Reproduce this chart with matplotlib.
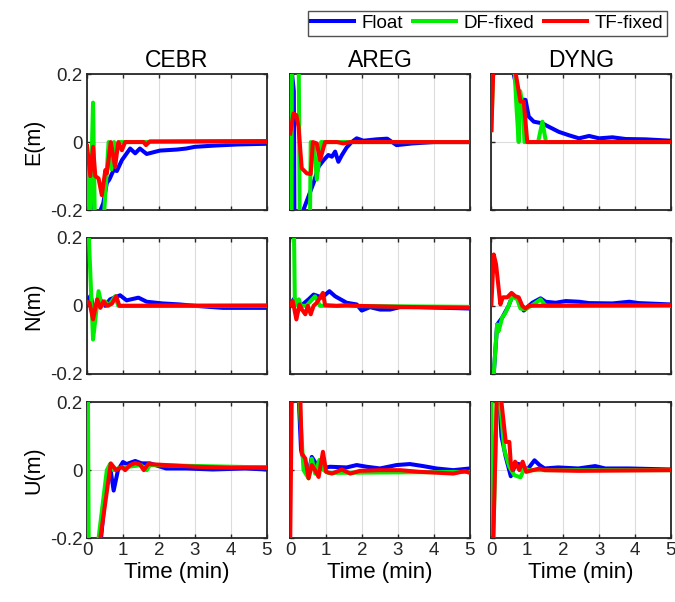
import numpy as np
import matplotlib
matplotlib.use("Agg")
import matplotlib.pyplot as plt

# --- data (time in min, error in m) ---
STATIONS = ["CEBR", "AREG", "DYNG"]
COMPONENTS = ["E", "N", "U"]
SERIES = ["Float", "DF-fixed", "TF-fixed"]
COLORS = ["#0000ff", "#00ee00", "#ff0000"]

# CEBR E
cebr_e_float_t = [0, 0.1, 0.2, 0.3, 0.45, 0.55, 0.62, 0.74, 0.83, 0.97, 1.2, 1.34, 1.47, 1.66, 2.03, 2.5, 2.76, 3.0, 3.6, 4.2, 5.0]
cebr_e_float_y = [-0.05, -0.15, -0.22, -0.22, -0.18, -0.12, -0.11, -0.082, -0.085, -0.053, -0.019, -0.033, -0.019, -0.035, -0.025, -0.022, -0.019, -0.014, -0.01, -0.007, -0.005]
cebr_e_df_t = [0, 0.08, 0.166, 0.22, 0.45, 0.6, 0.68, 0.75, 0.8, 0.9, 1.0, 5.0]
cebr_e_df_y = [-0.05, -0.25, 0.116, -0.25, -0.25, 0.0, -0.08, 0.0, -0.02, 0.0, 0.0, 0.002]
cebr_e_tf_t = [0, 0.09, 0.166, 0.23, 0.32, 0.41, 0.51, 0.55, 0.66, 0.78, 0.87, 0.97, 1.06, 1.57, 1.64, 1.75, 5.0]
cebr_e_tf_y = [-0.012, -0.10, -0.014, -0.10, -0.107, -0.156, -0.082, -0.092, 0.0, -0.073, 0.0, -0.024, 0.0, 0.0, -0.009, 0.002, 0.003]

# AREG E
areg_e_float_t = [0, 0.05, 0.1, 0.12, 0.3, 0.4, 0.65, 0.79, 0.93, 1.06, 1.16, 1.25, 1.34, 1.44, 1.57, 1.71, 1.85, 2.04, 2.4, 2.7, 2.96, 3.4, 4.0, 5.0]
areg_e_float_y = [0.4, 0.2, 0.15, -0.3, -0.22, -0.19, -0.12, -0.072, -0.053, -0.038, -0.043, -0.028, -0.058, -0.038, -0.016, 0.0, 0.011, 0.004, 0.008, 0.01, -0.009, -0.004, 0.0, 0.0]
areg_e_df_t = [0, 0.03, 0.05, 0.22, 0.28, 0.3, 0.55, 0.57, 0.66, 0.74, 0.86, 0.92, 5.0]
areg_e_df_y = [0.5, -0.5, 0.5, 0.5, -0.5, -0.22, -0.22, 0.0, -0.01, -0.11, 0.0, 0.0, 0.0]
areg_e_tf_t = [0, 0.09, 0.17, 0.23, 0.32, 0.46, 0.57, 0.63, 0.74, 0.83, 0.97, 1.3, 1.48, 1.67, 5.0]
areg_e_tf_y = [0.025, 0.084, 0.079, 0.045, -0.077, -0.092, -0.094, 0.0, -0.004, -0.053, 0.0, 0.0, -0.004, 0.0, 0.0]

# DYNG E
dyng_e_float_t = [0, 0.5, 0.62, 0.74, 0.85, 0.95, 1.04, 1.18, 1.42, 1.6, 1.88, 2.16, 2.44, 2.72, 3.0, 3.37, 3.74, 4.3, 5.0]
dyng_e_float_y = [0.3, 0.3, 0.2, 0.143, 0.125, 0.124, 0.075, 0.06, 0.055, 0.045, 0.03, 0.02, 0.011, 0.018, 0.011, 0.014, 0.009, 0.008, 0.004]
dyng_e_df_t = [0, 0.07, 0.6, 0.7, 0.76, 0.8, 0.88, 0.92, 1.0, 1.3, 1.42, 1.52, 5.0]
dyng_e_df_y = [0.035, 0.3, 0.3, 0.1, 0.0, 0.15, 0.1, 0.0, 0.0, 0.0, 0.06, 0.0, 0.0]
dyng_e_tf_t = [0, 0.065, 0.6, 0.81, 0.9, 1.0, 5.0]
dyng_e_tf_y = [0.035, 0.25, 0.25, 0.119, 0.119, 0.0, 0.0]

# CEBR N
cebr_n_float_t = [0, 0.1, 0.2, 0.35, 0.5, 0.64, 0.92, 1.1, 1.43, 1.66, 2.1, 2.58, 3.0, 3.78, 5.0]
cebr_n_float_y = [0.014, 0.03, -0.02, 0.02, 0.0, 0.019, 0.031, 0.016, 0.024, 0.012, 0.007, 0.004, 0.0, -0.006, -0.006]
cebr_n_df_t = [0, 0.05, 0.166, 0.32, 0.41, 0.5, 0.6, 0.78, 0.87, 5.0]
cebr_n_df_y = [0.2, 0.2, -0.099, 0.043, 0.0, 0.013, 0.0, 0.028, 0.0, 0.0]
cebr_n_tf_t = [0, 0.07, 0.166, 0.28, 0.37, 0.46, 0.55, 0.69, 0.81, 0.9, 1.1, 5.0]
cebr_n_tf_y = [0.012, 0.008, -0.04, 0.019, -0.006, 0.013, 0.0, 0.006, 0.028, 0.0, 0.0, 0.001]

# AREG N
areg_n_float_t = [0, 0.1, 0.3, 0.51, 0.65, 0.79, 0.88, 1.09, 1.25, 1.57, 1.85, 1.99, 2.22, 2.5, 2.78, 3.05, 3.6, 4.35, 5.0]
areg_n_float_y = [0.0, 0.02, 0.0, 0.019, 0.033, 0.028, 0.024, 0.043, 0.028, 0.009, 0.004, -0.014, -0.004, -0.011, -0.011, -0.004, -0.004, -0.006, -0.008]
areg_n_df_t = [0.1, 0.13, 0.18, 0.24, 0.3, 0.45, 0.69, 0.83, 5.0]
areg_n_df_y = [0.25, 0.0, 0.01, 0.019, 0.0, 0.0, 0.028, 0.0, -0.003]
areg_n_tf_t = [0, 0.07, 0.17, 0.26, 0.32, 0.42, 0.49, 0.57, 0.65, 0.74, 0.91, 0.97, 1.29, 1.57, 1.85, 3.0, 5.0]
areg_n_tf_y = [0.004, 0.014, -0.04, 0.004, -0.01, -0.025, 0.0, -0.025, 0.0, 0.009, 0.038, 0.002, 0.0, 0.002, 0.0, -0.003, -0.006]

# DYNG N
dyng_n_float_t = [0, 0.065, 0.16, 0.3, 0.48, 0.58, 0.76, 0.9, 1.14, 1.37, 1.51, 1.79, 2.07, 2.44, 2.72, 3.37, 3.84, 4.1, 5.0]
dyng_n_float_y = [-0.3, -0.2, -0.055, -0.035, 0.0, 0.028, 0.02, -0.014, 0.009, 0.022, 0.012, 0.009, 0.014, 0.012, 0.008, 0.007, 0.012, 0.008, 0.004]
dyng_n_df_t = [0, 0.065, 0.16, 0.2, 0.3, 0.39, 0.48, 0.58, 0.72, 0.81, 0.95, 1.14, 1.37, 1.51, 5.0]
dyng_n_df_y = [-0.3, -0.2, -0.055, -0.075, -0.035, -0.021, 0.0, 0.028, 0.019, -0.008, -0.01, 0.002, 0.019, 0.0, 0.0]
dyng_n_tf_t = [0, 0.065, 0.13, 0.25, 0.32, 0.44, 0.56, 0.67, 0.76, 0.86, 0.95, 1.04, 5.0]
dyng_n_tf_y = [0.004, 0.151, 0.122, 0.004, 0.025, 0.025, 0.038, 0.028, 0.025, 0.0, -0.008, 0.0, 0.002]

# CEBR U
cebr_u_float_t = [0, 0.03, 0.3, 0.55, 0.64, 0.74, 0.86, 1.0, 1.1, 1.34, 1.52, 1.75, 2.2, 2.76, 3.5, 4.4, 5.0]
cebr_u_float_y = [0.3, -0.3, -0.3, -0.02, 0.01, -0.06, 0.0, 0.024, 0.018, 0.027, 0.02, 0.02, 0.005, 0.005, 0.002, 0.005, 0.002]
cebr_u_df_t = [0.02, 0.05, 0.32, 0.55, 0.64, 0.74, 0.88, 1.5, 1.66, 1.75, 5.0]
cebr_u_df_y = [0.3, -0.3, -0.2, 0.0, 0.018, 0.0, 0.006, 0.015, 0.0, 0.015, 0.008]
cebr_u_tf_t = [0.37, 0.66, 0.81, 0.97, 1.06, 1.2, 1.34, 1.47, 1.58, 1.7, 2.2, 3.04, 4.0, 5.0]
cebr_u_tf_y = [-0.2, 0.02, 0.0, 0.01, 0.0, 0.015, 0.021, 0.017, 0.0, 0.018, 0.015, 0.01, 0.007, 0.008]

# AREG U
areg_u_float_t = [0.2, 0.3, 0.4, 0.51, 0.6, 0.74, 0.85, 1.11, 1.57, 1.85, 2.13, 2.5, 2.96, 3.33, 3.7, 4.07, 4.54, 5.0]
areg_u_float_y = [0.3, 0.06, 0.02, -0.01, 0.039, 0.015, 0.005, 0.01, 0.008, 0.015, 0.01, 0.005, 0.015, 0.018, 0.012, 0.005, 0.0, 0.005]
areg_u_df_t = [0.23, 0.37, 0.51, 0.6, 0.69, 0.81, 0.93, 1.06, 5.0]
areg_u_df_y = [0.25, 0.0, -0.024, 0.034, -0.01, 0.03, 0.0, -0.008, -0.005]
areg_u_tf_t = [0, 0.05, 0.26, 0.32, 0.42, 0.51, 0.6, 0.69, 0.79, 0.91, 1.0, 1.16, 1.44, 1.67, 1.94, 2.5, 3.06, 3.61, 4.17, 4.54, 4.86, 5.0]
areg_u_tf_y = [-0.2, 0.3, 0.3, 0.049, 0.034, -0.024, 0.015, 0.0, -0.02, 0.054, -0.005, -0.01, 0.002, -0.01, -0.002, 0.0, 0.0, -0.005, -0.008, -0.01, -0.003, -0.008]

# DYNG U
dyng_u_float_t = [0.17, 0.28, 0.4, 0.54, 0.68, 0.87, 0.99, 1.2, 1.34, 1.48, 1.86, 2.42, 2.89, 3.17, 3.83, 5.0]
dyng_u_float_y = [0.3, 0.1, 0.039, -0.018, 0.02, 0.015, 0.0, 0.029, 0.015, 0.005, 0.008, 0.005, 0.012, 0.005, 0.005, 0.002]
dyng_u_df_t = [0, 0.03, 0.17, 0.24, 0.36, 0.5, 0.64, 0.81, 0.92, 1.05, 5.0]
dyng_u_df_y = [0.3, -0.3, 0.3, 0.2, 0.059, 0.01, -0.015, -0.021, 0.005, 0.0, 0.0]
dyng_u_tf_t = [0, 0.03, 0.17, 0.28, 0.4, 0.5, 0.54, 0.59, 0.66, 0.78, 0.87, 0.97, 1.15, 1.34, 1.48, 2.42, 5.0]
dyng_u_tf_y = [-0.2, -0.3, 0.3, 0.2, 0.083, 0.083, 0.02, 0.0, 0.025, 0.0, 0.025, -0.005, 0.0, 0.005, 0.0, -0.002, 0.0]

data = {
    ("E", "CEBR"): [(cebr_e_float_t, cebr_e_float_y), (cebr_e_df_t, cebr_e_df_y), (cebr_e_tf_t, cebr_e_tf_y)],
    ("E", "AREG"): [(areg_e_float_t, areg_e_float_y), (areg_e_df_t, areg_e_df_y), (areg_e_tf_t, areg_e_tf_y)],
    ("E", "DYNG"): [(dyng_e_float_t, dyng_e_float_y), (dyng_e_df_t, dyng_e_df_y), (dyng_e_tf_t, dyng_e_tf_y)],
    ("N", "CEBR"): [(cebr_n_float_t, cebr_n_float_y), (cebr_n_df_t, cebr_n_df_y), (cebr_n_tf_t, cebr_n_tf_y)],
    ("N", "AREG"): [(areg_n_float_t, areg_n_float_y), (areg_n_df_t, areg_n_df_y), (areg_n_tf_t, areg_n_tf_y)],
    ("N", "DYNG"): [(dyng_n_float_t, dyng_n_float_y), (dyng_n_df_t, dyng_n_df_y), (dyng_n_tf_t, dyng_n_tf_y)],
    ("U", "CEBR"): [(cebr_u_float_t, cebr_u_float_y), (cebr_u_df_t, cebr_u_df_y), (cebr_u_tf_t, cebr_u_tf_y)],
    ("U", "AREG"): [(areg_u_float_t, areg_u_float_y), (areg_u_df_t, areg_u_df_y), (areg_u_tf_t, areg_u_tf_y)],
    ("U", "DYNG"): [(dyng_u_float_t, dyng_u_float_y), (dyng_u_df_t, dyng_u_df_y), (dyng_u_tf_t, dyng_u_tf_y)],
}

plt.rcParams["font.family"] = ["Liberation Sans", "DejaVu Sans"]

fig = plt.figure(figsize=(6.75, 6.02), dpi=100)
lefts = [0.129, 0.430, 0.728]
bottoms = [0.651, 0.379, 0.106]
w, h = 0.266, 0.226

handles = []
for r, comp in enumerate(COMPONENTS):
    for c, st in enumerate(STATIONS):
        ax = fig.add_axes([lefts[c], bottoms[r], w, h])
        for k, (t, y) in enumerate(data[(comp, st)]):
            ln, = ax.plot(t, y, color=COLORS[k], lw=2.9, label=SERIES[k],
                          solid_joinstyle="round", zorder=2 + k)
            if r == 0 and c == 0:
                handles.append(ln)
        ax.set_xlim(0, 5)
        ax.set_ylim(-0.2, 0.2)
        ax.set_xticks(range(6))
        ax.set_yticks([-0.2, 0, 0.2])
        ax.grid(True, color="#dcdcdc", lw=0.8)
        ax.set_axisbelow(True)
        ax.tick_params(direction="in", top=True, right=True, length=3,
                       width=1, labelsize=13.5, colors="#262626", pad=3)
        for sp in ax.spines.values():
            sp.set_color("#262626")
            sp.set_linewidth(1.3)
        if c == 0:
            ax.set_yticklabels(["-0.2", "0", "0.2"])
            ax.set_ylabel(f"{comp}(m)", fontsize=15.5, labelpad=4)
        else:
            ax.set_yticklabels([])
        if r == 2:
            ax.set_xlabel("Time (min)", fontsize=16, labelpad=2)
        else:
            ax.set_xticklabels([])
        if r == 0:
            ax.set_title(st, fontsize=16.5, pad=5)

leg = fig.legend(handles=handles, labels=SERIES, ncol=3, loc="upper right",
                 bbox_to_anchor=(0.993, 0.988), frameon=True, fancybox=False,
                 edgecolor="#262626", fontsize=13.5, handlelength=2.3,
                 handletextpad=0.4, columnspacing=0.5, borderpad=0.2,
                 borderaxespad=0.2)
leg.get_frame().set_linewidth(1.0)

fig.savefig("out.png", dpi=100)
